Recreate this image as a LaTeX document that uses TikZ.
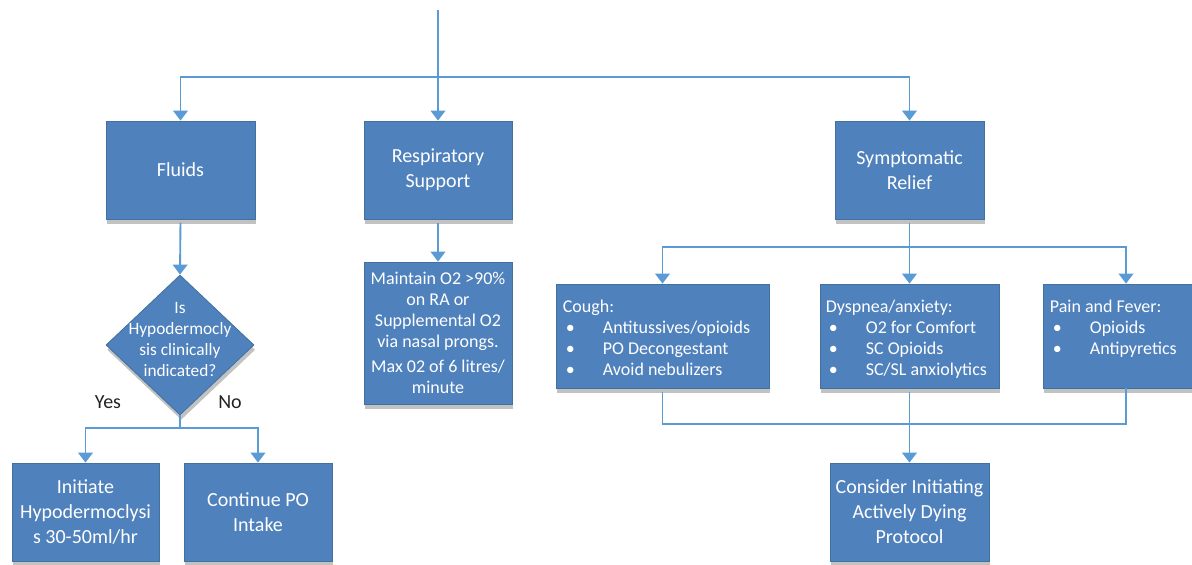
\documentclass[tikz,border=0pt]{standalone}
\usepackage{fontspec}
\setmainfont{Carlito}
\usetikzlibrary{arrows.meta,shadows,shapes.geometric}
\definecolor{boxfill}{HTML}{4F81BD}
\definecolor{boxline}{HTML}{41719C}
\definecolor{wire}{HTML}{5B9BD5}
\definecolor{labeltext}{HTML}{222222}
% font sizes
\newcommand\mainsz{\fontsize{15pt}{18.75pt}\selectfont}
\newcommand\listsz{\fontsize{13.5pt}{15.75pt}\selectfont}
\newcommand\diasz{\fontsize{13pt}{15.75pt}\selectfont}
% one bulleted line of a symptom list
\newcommand\bul{\hspace*{2.25pt}\makebox[27.75pt][l]{\textbullet}}

\begin{document}
\begin{tikzpicture}[x=0.75pt,y=-0.75pt,
  wh/.style 2 args={minimum width=#1*0.75pt, minimum height=#2*0.75pt},
  shade/.style={drop shadow={shadow xshift=0.9pt, shadow yshift=-3.6pt, fill=black!60, opacity=0.4}},
  box/.style={draw=boxline, line width=0.6pt, fill=boxfill, text=white,
    align=center, inner sep=0pt, font=\mainsz, shade},
  listbox/.style={box, font=\listsz},
  listtext/.style={anchor=north west, inner sep=0pt, align=left, text=white, font=\listsz},
  dia/.style={diamond, draw=boxline, line width=0.6pt, fill=boxfill, inner sep=0pt,
    minimum width=148*0.75pt, minimum height=140*0.75pt, shade},
  diatext/.style={align=center, text=white, font=\diasz, inner sep=0pt},
  answer/.style={text=labeltext, font=\mainsz, inner sep=0pt},
  wire/.style={draw=wire, line width=1.4pt},
  arrow/.style={wire, -{Triangle[width=11pt,length=7.5pt]}},
  from/.style={shorten <=2.5pt}
]
\useasboundingbox (0,0) rectangle (1192,564);
\clip (0,0) rectangle (1192,564);

% top level
\node[box, wh={149}{98}] (fluids) at (180.5,170) {Fluids};
\node[box, wh={148}{98}] (resp) at (438,170) {Respiratory\\Support};
\node[box, wh={149}{98}] (symp) at (909.5,170) {Symptomatic\\Relief};

% fluids branch
\node[dia] (dia) at (180,345) {};
\node[diatext] (diatxt) at (180,339) {Is\\Hypodermocly\\sis clinically\\indicated?};
\node[answer] (yes) at (108,402) {Yes};
\node[answer] (no) at (230,402) {No};
\node[box, wh={147}{98}] (init) at (85.5,512) {Initiate\\Hypodermoclysi\\s 30-50ml/hr};
\node[box, wh={148}{98}] (cont) at (258,512) {Continue PO\\Intake};

% respiratory branch
\node[listbox, wh={148}{142}] (maint) at (438,333)
  {Maintain O2 >90\%\\on RA or\\Supplemental O2\\via nasal prongs.\\[3.5pt]Max 02 of 6 litres/\\minute};

% symptomatic branch
\node[listbox, wh={213}{104}] (cough) at (662.5,336) {};
\node[listtext] (coughtxt) at ([shift={(7,16)}]cough.north west)
  {Cough:\\\bul Antitussives/opioids\\\bul PO Decongestant\\\bul Avoid nebulizers};
\node[listbox, wh={179}{104}] (dys) at (909.5,336) {};
\node[listtext] (dystxt) at ([shift={(6,16)}]dys.north west)
  {Dyspnea/anxiety:\\\bul O2 for Comfort\\\bul SC Opioids\\\bul SC/SL anxiolytics};
\node[listbox, wh={166}{104}] (pain) at (1126,336) {};
\node[listtext] (paintxt) at ([shift={(7,16)}]pain.north west)
  {Pain and Fever:\\\bul Opioids\\\bul Antipyretics};
\node[box, wh={159}{98}] (cons) at (909.5,512) {Consider Initiating\\Actively Dying\\Protocol};

% connectors
\coordinate (start) at (438,10);
\coordinate (bus1) at (438,77);
\draw[arrow] (start) -- (resp.north);
\draw[arrow] (bus1) -| (fluids.north);
\draw[arrow] (bus1) -| (symp.north);

\draw[arrow, from] (fluids.south) -- (dia.north);
\coordinate (bus2) at (180,428);
\draw[wire] (dia.south) -- (bus2);
\draw[arrow] (bus2) -| (init.north);
\draw[arrow] (bus2) -| (cont.north);

\draw[arrow, from] (resp.south) -- (maint.north);

\coordinate (bus3) at (909.5,247);
\draw[arrow, from] (symp.south) -- (dys.north);
\draw[arrow] (bus3) -| (cough.north);
\draw[arrow] (bus3) -| (pain.north);

\coordinate (bus4) at (909.5,424);
\draw[wire, from] (cough.south) -- (cough.south |- bus4) -- (pain.south |- bus4) -- (pain.south);
\draw[arrow, from] (dys.south) -- (cons.north);
\end{tikzpicture}
\end{document}
